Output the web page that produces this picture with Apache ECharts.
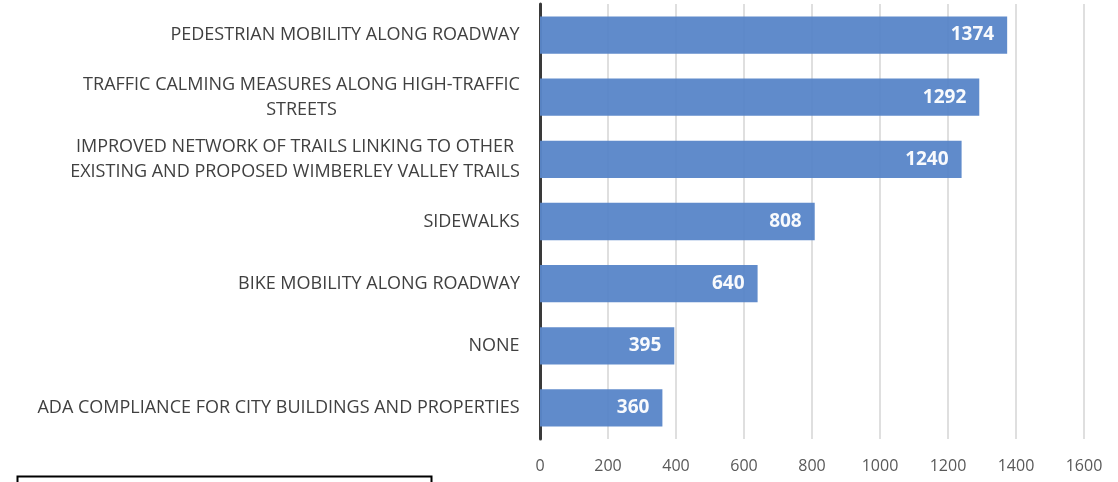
<!DOCTYPE html>
<html>
<head>
<meta charset="utf-8">
<script src="https://cdn.jsdelivr.net/npm/echarts@6/dist/echarts.min.js"></script>
<style>
  html, body { margin: 0; padding: 0; background: #fff; }
  #chart { width: 1118px; height: 482px; }
</style>
</head>
<body>
<div id="chart"></div>
<script>
// Survey responses: preferred mobility improvements
const categories = [
  'PEDESTRIAN MOBILITY ALONG ROADWAY',
  'TRAFFIC CALMING MEASURES ALONG HIGH-TRAFFIC\nSTREETS',
  'IMPROVED NETWORK OF TRAILS LINKING TO OTHER\nEXISTING AND PROPOSED WIMBERLEY VALLEY TRAILS',
  'SIDEWALKS',
  'BIKE MOBILITY ALONG ROADWAY',
  'NONE',
  'ADA COMPLIANCE FOR CITY BUILDINGS AND PROPERTIES'
];
const responses = [1374, 1292, 1240, 808, 640, 395, 360];
const xTicks = [0, 200, 400, 600, 800, 1000, 1200, 1400, 1600];

const FONT = '"Open Sans", Lato, sans-serif';
const LABEL_SIZE = 18;

// Multi-line labels: centre each line inside a block as wide as its longest line
const ctx = document.createElement('canvas').getContext('2d');
ctx.font = LABEL_SIZE + 'px ' + FONT;
const rich = {};
categories.forEach((c, i) => {
  const w = Math.max(...c.split('\n').map(l => ctx.measureText(l).width));
  rich['l' + i] = {
    width: Math.ceil(w), align: 'center', fontSize: LABEL_SIZE,
    fontFamily: FONT, color: '#404040', lineHeight: 25
  };
});

const chart = echarts.init(document.getElementById('chart'));
chart.setOption({
  animation: false,
  grid: { left: 540, right: 34, top: 4, bottom: 43, containLabel: false },
  xAxis: {
    type: 'value', min: xTicks[0], max: xTicks[xTicks.length - 1], interval: 200,
    axisLine: { show: false }, axisTick: { show: false },
    splitLine: { show: true, lineStyle: { color: '#d4d4d4', width: 1.5 } },
    axisLabel: {
      color: '#595959', fontSize: 16, fontFamily: FONT, margin: 19,
      formatter: v => String(v)
    }
  },
  yAxis: {
    type: 'category', data: categories, inverse: true,
    axisLine: { show: true, lineStyle: { color: '#3a3a3a', width: 3 } },
    axisTick: { show: false },
    axisLabel: {
      margin: 20,
      formatter: (v, i) => v.split('\n').map(l => '{l' + i + '|' + l + '}').join('\n'),
      rich: rich
    }
  },
  series: [{
    type: 'bar', data: responses, barWidth: '60%',
    itemStyle: { color: '#5a86c9', opacity: 0.96 },
    label: {
      show: true, position: 'insideRight', distance: 13,
      color: '#fff', fontWeight: 'bold', fontSize: 19, fontFamily: FONT
    }
  }],
  graphic: [{
    type: 'rect', left: 15, top: 474,
    shape: { width: 414, height: 20 },
    style: { fill: 'none', stroke: '#000', lineWidth: 2 }
  }]
});
</script>
</body>
</html>
